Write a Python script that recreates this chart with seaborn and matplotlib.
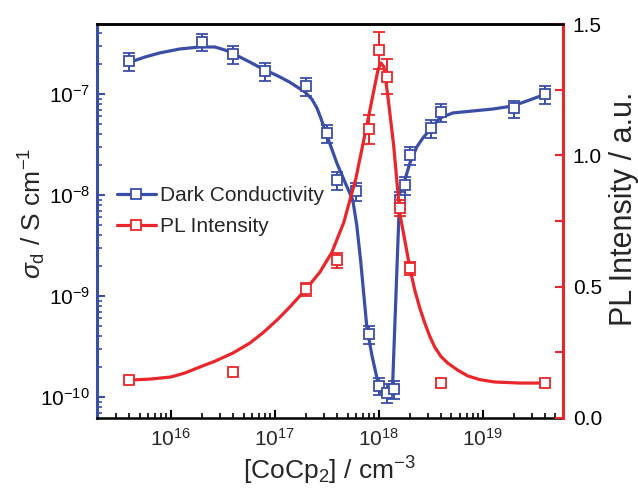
import numpy as np
import pandas as pd
import matplotlib
matplotlib.use("Agg")
import matplotlib.pyplot as plt
import seaborn as sns
from matplotlib.lines import Line2D
from matplotlib.ticker import (FixedLocator, MultipleLocator, FormatStrFormatter,
                               NullFormatter, LogFormatterSciNotation)

# ---------------- data ----------------
conc_dark = [4e15, 2e16, 4e16, 8e16, 2e17, 3.2e17, 4e17, 6e17, 8e17, 1e18,
             1.2e18, 1.4e18, 1.6e18, 1.8e18, 2e18, 3.2e18, 4e18, 2e19, 4e19]
sigma_dark = [2.1e-7, 3.3e-7, 2.5e-7, 1.7e-7, 1.2e-7, 4.1e-8, 1.4e-8, 1.1e-8, 4.2e-10, 1.3e-10,
              1.1e-10, 1.2e-10, 9.0e-9, 1.25e-8, 2.5e-8, 4.6e-8, 6.6e-8, 7.2e-8, 1.0e-7]
sigma_err = [4.2e-8, 6.5e-8, 5.0e-8, 3.4e-8, 2.4e-8, 8.0e-9, 2.8e-9, 2.2e-9, 8.5e-11, 2.6e-11,
             2.3e-11, 2.4e-11, 1.8e-9, 2.5e-9, 5.0e-9, 9.0e-9, 1.3e-8, 1.4e-8, 2.0e-8]

conc_pl = [4e15, 4e16, 2e17, 4e17, 8e17, 1e18, 1.2e18, 1.6e18, 2e18, 4e18, 4e19]
pl_int = [0.145, 0.175, 0.49, 0.60, 1.10, 1.40, 1.30, 0.80, 0.57, 0.135, 0.133]
pl_err = [0.012, 0.012, 0.025, 0.03, 0.055, 0.07, 0.065, 0.03, 0.025, 0.012, 0.012]

# guide/fit curves
curve_dark_x = [3.87e15, 5.62e15, 7.83e15, 1.22e16, 1.90e16, 2.65e16, 3.30e16, 3.86e16, 5.50e16,
                7.67e16, 1.07e17, 1.39e17, 1.94e17, 2.27e17, 2.54e17, 2.77e17, 3.03e17, 3.45e17,
                3.95e17, 4.71e17, 5.62e17, 6.14e17, 6.71e17, 7.18e17, 7.67e17, 8.57e17, 9.78e17,
                1.045e18, 1.14e18, 1.25e18, 1.36e18, 1.59e18, 1.70e18, 1.78e18, 1.99e18, 2.32e18,
                2.65e18, 3.09e18, 3.86e18, 5.15e18, 8.02e18, 1.25e19, 1.94e19, 2.83e19, 4.04e19]
curve_dark_y = [2.03e-7, 2.32e-7, 2.55e-7, 2.79e-7, 2.92e-7, 2.92e-7, 2.73e-7, 2.55e-7, 2.12e-7,
                1.77e-7, 1.51e-7, 1.31e-7, 1.05e-7, 8.9e-8, 7.27e-8, 5.78e-8, 4.40e-8, 3.05e-8,
                2.07e-8, 1.35e-8, 8.9e-9, 5.0e-9, 2.17e-9, 1.02e-9, 4.93e-10, 2.61e-10, 1.41e-10,
                1.12e-10, 1.02e-10, 1.12e-10, 1.38e-10, 1.05e-8, 1.23e-8, 1.41e-8, 2.07e-8, 2.99e-8,
                3.66e-8, 4.40e-8, 5.78e-8, 6.49e-8, 6.79e-8, 7.10e-8, 7.61e-8, 8.73e-8, 1.0e-7]

curve_pl_x = [3.87e15, 6.28e15, 1.0e16, 1.36e16, 1.90e16, 2.65e16, 3.94e16, 5.75e16, 7.83e16,
              1.07e17, 1.39e17, 1.99e17, 2.71e17, 3.53e17, 4.60e17, 6.01e17, 7.83e17, 8.95e17,
              9.78e17, 1.045e18, 1.12e18, 1.22e18, 1.39e18, 1.59e18, 1.78e18, 1.99e18, 2.22e18,
              2.48e18, 2.77e18, 3.09e18, 3.45e18, 3.94e18, 4.60e18, 5.75e18, 7.18e18, 9.36e18,
              1.30e19, 2.27e19, 4.04e19]
curve_pl_y = [0.144, 0.148, 0.156, 0.171, 0.194, 0.216, 0.247, 0.285, 0.327,
              0.376, 0.422, 0.490, 0.555, 0.630, 0.744, 0.911, 1.132, 1.246,
              1.322, 1.352, 1.337, 1.227, 1.037, 0.779, 0.676, 0.570, 0.486,
              0.418, 0.361, 0.311, 0.270, 0.235, 0.209, 0.182, 0.160, 0.146,
              0.137, 0.133, 0.133]

x_major = [1e16, 1e17, 1e18, 1e19]
y_major = [1e-10, 1e-9, 1e-8, 1e-7]

BLUE = "#3a4ea6"
RED = "#e8262b"

sns.set_theme(style="ticks")
plt.rcParams["font.family"] = ["Liberation Sans", "DejaVu Sans"]
plt.rcParams["mathtext.fontset"] = "custom"
plt.rcParams["mathtext.rm"] = "Liberation Sans"
plt.rcParams["mathtext.it"] = "Liberation Sans:italic"
plt.rcParams["mathtext.bf"] = "Liberation Sans:bold"
plt.rcParams["axes.unicode_minus"] = False

XMIN, XMAX = 1.95e15, 5.9e19
YMIN, YMAX = 6.2e-11, 4.93e-7

fig = plt.figure(figsize=(6.38, 4.96), dpi=100)
ax = fig.add_axes([0.152, 0.1573, 0.7304, 0.7943])
ax.set_xscale("log")
ax.set_yscale("log")

df_cd = pd.DataFrame({"conc": curve_dark_x, "val": curve_dark_y})
sns.lineplot(data=df_cd, x="conc", y="val", ax=ax, color=BLUE, lw=2.3,
             estimator=None, sort=False)
ax.errorbar(conc_dark, sigma_dark, yerr=sigma_err, fmt="s", ms=7.5, mfc="white",
            mec=BLUE, mew=1.3, ecolor=BLUE, elinewidth=1.4, capsize=4, capthick=1.4, zorder=3)

ax.set_xlim(XMIN, XMAX)
ax.set_ylim(YMIN, YMAX)

ax2 = ax.twinx()
df_cp = pd.DataFrame({"conc": curve_pl_x, "val": curve_pl_y})
sns.lineplot(data=df_cp, x="conc", y="val", ax=ax2, color=RED, lw=2.3,
             estimator=None, sort=False)
ax2.errorbar(conc_pl, pl_int, yerr=pl_err, fmt="s", ms=7.5, mfc="white",
             mec=RED, mew=1.3, ecolor=RED, elinewidth=1.4, capsize=4, capthick=1.4, zorder=3)
ax2.set_ylim(0, 1.5)
ax2.set_xlim(XMIN, XMAX)
ax2.set_xlabel("")
ax2.tick_params(axis="x", which="both", labelbottom=False, labeltop=False,
                bottom=False, top=False)

# spines
for s in ["top", "bottom"]:
    ax.spines[s].set_color("black")
    ax.spines[s].set_linewidth(1.8)
ax.spines["left"].set_color(BLUE)
ax.spines["left"].set_linewidth(2.2)
ax.spines["right"].set_visible(False)
ax2.spines["left"].set_visible(False)
ax2.spines["bottom"].set_visible(False)
ax2.spines["top"].set_color("black")
ax2.spines["top"].set_linewidth(1.8)
ax2.spines["right"].set_color(RED)
ax2.spines["right"].set_linewidth(2.2)

# ticks (only inside the visible range)
x_minor = [m * 10.0 ** e for e in range(15, 20) for m in range(2, 10)
           if XMIN <= m * 10.0 ** e <= XMAX]
y_minor = [m * 10.0 ** e for e in range(-11, -6) for m in range(2, 10)
           if YMIN <= m * 10.0 ** e <= YMAX]
ax.xaxis.set_major_locator(FixedLocator(x_major))
ax.xaxis.set_major_formatter(LogFormatterSciNotation())
ax.xaxis.set_minor_locator(FixedLocator(x_minor))
ax.xaxis.set_minor_formatter(NullFormatter())
ax.yaxis.set_major_locator(FixedLocator(y_major))
ax.yaxis.set_major_formatter(LogFormatterSciNotation())
ax.yaxis.set_minor_locator(FixedLocator(y_minor))
ax.yaxis.set_minor_formatter(NullFormatter())

ax.tick_params(axis="x", which="major", direction="in", length=6, width=1.5,
               color="black", labelsize=15, pad=7, top=False)
ax.tick_params(axis="x", which="minor", direction="in", length=3.5, width=1.2,
               color="black", top=False)
ax.tick_params(axis="y", which="major", direction="in", length=6, width=1.5,
               color=BLUE, labelcolor="black", labelsize=15, pad=5, right=False)
ax.tick_params(axis="y", which="minor", direction="in", length=3.5, width=1.2,
               color=BLUE, right=False)

ax2.yaxis.set_major_locator(MultipleLocator(0.5))
ax2.yaxis.set_minor_locator(MultipleLocator(0.25))
ax2.yaxis.set_major_formatter(FormatStrFormatter("%.1f"))
ax2.tick_params(axis="y", which="major", direction="in", length=6, width=1.5,
                color=RED, labelcolor="black", labelsize=15, pad=7)
ax2.tick_params(axis="y", which="minor", direction="in", length=6, width=1.5, color=RED)

# labels
ax.set_xlabel(r"[CoCp$_2$] / cm$^{-3}$", fontsize=19, labelpad=4)
ax.set_ylabel(r"$\sigma_\mathrm{d}$ / S cm$^{-1}$", fontsize=19)
ax.yaxis.set_label_coords(-0.105, 0.52)
ax2.set_ylabel("PL Intensity / a.u.", fontsize=22, rotation=90)
ax2.yaxis.set_label_coords(1.098, 0.53)
ax2.yaxis.label.set_va("top")

# legend
handles = [
    Line2D([], [], color=BLUE, lw=2.3, marker="s", ms=7.5, mfc="white", mec=BLUE, mew=1.3),
    Line2D([], [], color=RED, lw=2.3, marker="s", ms=7.5, mfc="white", mec=RED, mew=1.3),
]
ax2.legend(handles, ["Dark Conductivity", "PL Intensity"], loc="center left",
           bbox_to_anchor=(0.043, 0.525), frameon=False, fontsize=15,
           handlelength=1.85, handletextpad=0.2, labelspacing=0.55,
           borderpad=0, borderaxespad=0)

fig.savefig("out.png", dpi=100)
